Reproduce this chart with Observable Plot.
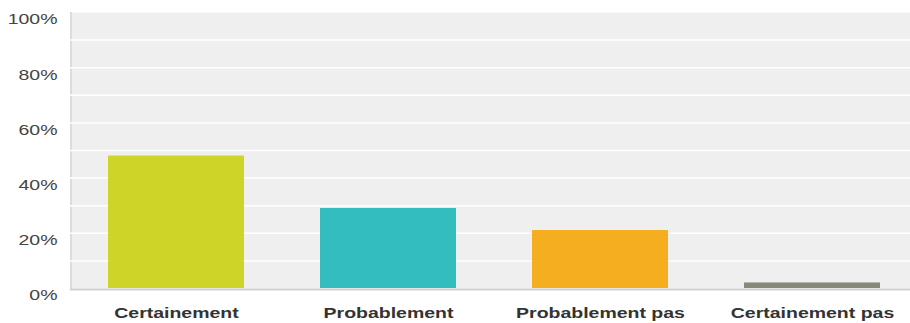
<!DOCTYPE html>
<html>
<head>
<meta charset="utf-8">
<script src="https://cdn.jsdelivr.net/npm/d3@7"></script>
<script src="https://cdn.jsdelivr.net/npm/@observablehq/plot@0.6"></script>
<style>
  html, body { margin: 0; padding: 0; background: #ffffff; }
  #chart svg { display: block; }
</style>
</head>
<body>
<div id="chart"></div>
<script>
// Survey answers and their share of respondents
const categories = ["Certainement", "Probablement", "Probablement pas", "Certainement pas"];
const shares = [0.48, 0.29, 0.21, 0.02];
const barColors = ["#cfd527", "#33bdbf", "#f6ae21", "#868a79"];

// Axis ticks
const yTicks = [0, 0.2, 0.4, 0.6, 0.8, 1];
const yTickLabels = ["0%", "20%", "40%", "60%", "80%", "100%"];
const gridTicks = [0.1, 0.2, 0.3, 0.4, 0.5, 0.6, 0.7, 0.8, 0.9];

const rows = categories.map((c, i) => ({category: c, share: shares[i], color: barColors[i]}));
const yLabelRows = yTicks.map((v, i) => ({value: v, label: yTickLabels[i]}));

const font = "'Liberation Sans', Arial, sans-serif";

const chart = Plot.plot({
  width: 910,
  height: 323,
  marginLeft: 70,
  marginRight: 0,
  marginTop: 12,
  marginBottom: 35,
  style: {fontFamily: font, background: "#ffffff"},
  x: {type: "band", domain: categories, range: [70, 918], paddingInner: 0.36, paddingOuter: 0.18, axis: null},
  y: {domain: [0, 1], axis: null},
  marks: [
    Plot.frame({fill: "#efefef", stroke: null}),
    Plot.ruleY(gridTicks, {stroke: "#ffffff", strokeWidth: 1.5}),
    Plot.barY(rows, {x: "category", y: "share", fill: "color"}),
    Plot.ruleY([0], {stroke: "#d2d2d2", strokeWidth: 2, dy: 1}),
    Plot.text(yLabelRows, {
      y: "value", text: "label", frameAnchor: "left", dx: -13, dy: 7,
      textAnchor: "end", lineAnchor: "middle", fontSize: 15, fill: "#444444", fontWeight: 500
    }),
    Plot.text(rows, {
      x: "category", text: "category", frameAnchor: "bottom", dy: 25,
      lineAnchor: "middle", fontSize: 15, fontWeight: "bold", fill: "#333333"
    })
  ]
});

// Subtle darker strip along the left edge of the plotting area
const svg = d3.select(chart);
svg.insert("rect", ":nth-child(3)")
  .attr("x", 70).attr("y", 12).attr("width", 2).attr("height", 277)
  .attr("fill", "#dcdcdc");

// Widen the labels horizontally around their anchor point
svg.selectAll("text").each(function () {
  const t = d3.select(this);
  const ax = +t.attr("x") || 0;
  const ay = +t.attr("y") || 0;
  const prev = t.attr("transform") || "";
  t.attr("transform", `${prev} translate(${ax},${ay}) scale(1.3,1) translate(${-ax},${-ay})`);
});

document.getElementById("chart").appendChild(chart);
</script>
</body>
</html>
